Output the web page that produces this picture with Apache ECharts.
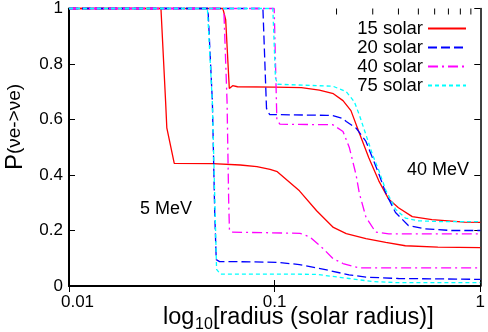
<!DOCTYPE html>
<html>
<head>
<meta charset="utf-8">
<script src="https://cdn.jsdelivr.net/npm/echarts@6/dist/echarts.min.js"></script>
<style>
  html, body { margin: 0; padding: 0; background: #fff; }
  #main { width: 488px; height: 332px; }
</style>
</head>
<body>
<div id="main"></div>
<script>
// [radius, P] pairs, one array per curve
var solar15_5MeV = [[0.01, 1], [0.028, 1], [0.0295, 0.664], [0.0299, 0.57], [0.0325, 0.442], [0.05, 0.441], [0.068, 0.436], [0.082, 0.43], [0.095, 0.42], [0.103, 0.412], [0.132, 0.343], [0.16, 0.271], [0.193, 0.211], [0.223, 0.189], [0.278, 0.171], [0.347, 0.157], [0.432, 0.145], [0.622, 0.14], [1, 0.138]];
var solar15_40MeV = [[0.01, 1], [0.056, 1], [0.0578, 0.96], [0.0602, 0.712], [0.0625, 0.722], [0.066, 0.718], [0.1, 0.717], [0.135, 0.715], [0.165, 0.706], [0.193, 0.693], [0.215, 0.668], [0.235, 0.632], [0.257, 0.555], [0.287, 0.462], [0.321, 0.379], [0.358, 0.314], [0.4, 0.282], [0.467, 0.25], [0.582, 0.239], [0.838, 0.23], [1, 0.229]];
var solar20_5MeV = [[0.01, 1], [0.0474, 1], [0.0498, 0.664], [0.0511, 0.27], [0.052, 0.095], [0.054, 0.088], [0.08, 0.087], [0.105, 0.085], [0.132, 0.077], [0.179, 0.058], [0.23, 0.04], [0.278, 0.032], [0.4, 0.027], [1, 0.024]];
var solar20_40MeV = [[0.01, 1], [0.0877, 1], [0.0913, 0.64], [0.0945, 0.618], [0.179, 0.615], [0.192, 0.614], [0.215, 0.603], [0.223, 0.593], [0.249, 0.569], [0.278, 0.521], [0.299, 0.462], [0.322, 0.402], [0.347, 0.335], [0.387, 0.265], [0.447, 0.218], [0.539, 0.206], [0.726, 0.2], [1, 0.2]];
var solar40_5MeV = [[0.01, 1], [0.0566, 1], [0.0587, 0.664], [0.0598, 0.3], [0.0603, 0.2], [0.062, 0.194], [0.133, 0.19], [0.1486, 0.176], [0.172, 0.135], [0.192, 0.099], [0.215, 0.081], [0.258, 0.065], [0.4, 0.065], [1, 0.065]];
var solar40_40MeV = [[0.01, 1], [0.0995, 1], [0.1025, 0.6], [0.106, 0.583], [0.192, 0.581], [0.215, 0.557], [0.231, 0.498], [0.249, 0.4], [0.258, 0.335], [0.278, 0.248], [0.31, 0.194], [0.359, 0.188], [1, 0.188]];
var solar75_5MeV = [[0.01, 1], [0.0471, 1], [0.0498, 0.66], [0.0522, 0.06], [0.0545, 0.043], [0.1, 0.043], [0.16, 0.042], [0.23, 0.027], [0.3, 0.016], [0.4, 0.012], [1, 0.012]];
var solar75_40MeV = [[0.01, 1], [0.098, 1], [0.1009, 0.75], [0.1035, 0.727], [0.192, 0.72], [0.223, 0.7], [0.244, 0.664], [0.258, 0.617], [0.278, 0.545], [0.299, 0.474], [0.322, 0.414], [0.347, 0.346], [0.387, 0.277], [0.432, 0.245], [0.5, 0.235], [0.647, 0.232], [1, 0.232]];

var legendNames = ['15 solar', '20 solar', '40 solar', '75 solar'];
var yTicks = [0, 0.2, 0.4, 0.6, 0.8, 1];
var topMinorTicks = [0.2, 0.3, 0.4, 0.5, 0.6, 0.7, 0.8, 0.9];

var font = 'Liberation Sans';

function curve(name, data, color, dash) {
  return {
    type: 'line', name: name, data: data, symbol: 'none', clip: false,
    lineStyle: { color: color, width: 1.3, type: dash },
    itemStyle: { color: color }
  };
}

var chart = echarts.init(document.getElementById('main'));
chart.setOption({
  animation: false,
  grid: { left: 69, right: 2, top: 6, bottom: 46 },
  legend: {
    data: legendNames,
    orient: 'vertical',
    right: 16, top: 14,
    align: 'right',
    itemWidth: 38, itemHeight: 21, itemGap: 0,
    itemStyle: { opacity: 0 },
    textStyle: { fontFamily: font, fontSize: 18.5, color: '#000' }
  },
  xAxis: [{
    type: 'log', logBase: 10, min: 0.01, max: 1, position: 'bottom',
    axisLine: { lineStyle: { color: '#000', width: 2 } },
    axisTick: { inside: true, length: 6, lineStyle: { color: '#000', width: 1 } },
    axisLabel: { fontFamily: font, fontSize: 17, color: '#000', margin: 8,
      formatter: function (v) { return v === 0.01 ? '{first|0.01}' : String(v); },
      rich: { first: { fontFamily: font, fontSize: 17, color: '#000', padding: [0, 0, 0, 17] } } },
    splitLine: { show: false }
  }, {
    type: 'log', logBase: 10, min: 0.01, max: 1, position: 'top',
    axisLine: { lineStyle: { color: '#000', width: 1.5 } },
    axisTick: { inside: true, length: 6, lineStyle: { color: '#000', width: 1 } },
    axisLabel: { show: false },
    splitLine: { show: false }
  }],
  yAxis: [{
    type: 'value', min: 0, max: 1, interval: 0.2, position: 'left',
    axisLine: { lineStyle: { color: '#000', width: 2 } },
    axisTick: { inside: true, length: 6, lineStyle: { color: '#000', width: 1 } },
    axisLabel: { fontFamily: font, fontSize: 17, color: '#000', margin: 6,
      formatter: function (v) { return yTicks.indexOf(v) >= 0 ? String(v) : ''; } },
    splitLine: { show: false }
  }, {
    type: 'value', min: 0, max: 1, interval: 0.2, position: 'right',
    axisLine: { lineStyle: { color: '#000', width: 1.5 } },
    axisTick: { inside: true, length: 6, lineStyle: { color: '#000', width: 1 } },
    axisLabel: { show: false },
    splitLine: { show: false }
  }],
  graphic: [
    { type: 'text', x: 15, y: 127, rotation: Math.PI / 2,
      style: { text: '{p|P}{q|(νe->νe)}', align: 'center', verticalAlign: 'middle', fill: '#000',
        rich: { p: { fontFamily: font, fontSize: 24, verticalAlign: 'middle' },
                q: { fontFamily: font, fontSize: 19, verticalAlign: 'middle' } } } },
    { type: 'text', x: 163, y: 318,
      style: { text: 'log', fontFamily: font, fontSize: 23.5, fill: '#000', verticalAlign: 'middle' } },
    { type: 'text', x: 195, y: 325,
      style: { text: '10', fontFamily: font, fontSize: 16, fill: '#000', verticalAlign: 'middle' } },
    { type: 'text', x: 213, y: 318,
      style: { text: '[radius (solar radius)]', fontFamily: font, fontSize: 23.5, fill: '#000', verticalAlign: 'middle' } },
    { type: 'text', x: 140, y: 209,
      style: { text: '5 MeV', fontFamily: font, fontSize: 18, fill: '#000', verticalAlign: 'middle' } },
    { type: 'text', x: 407, y: 170,
      style: { text: '40 MeV', fontFamily: font, fontSize: 18, fill: '#000', verticalAlign: 'middle' } }
  ],
  series: [
    curve('15 solar', solar15_5MeV, '#ff0000', 'solid'),
    curve('15 solar', solar15_40MeV, '#ff0000', 'solid'),
    curve('20 solar', solar20_5MeV, '#0000ff', [9, 4]),
    curve('20 solar', solar20_40MeV, '#0000ff', [9, 4]),
    curve('40 solar', solar40_5MeV, '#ff00ff', [10, 4, 2, 4]),
    curve('40 solar', solar40_40MeV, '#ff00ff', [10, 4, 2, 4]),
    curve('75 solar', solar75_5MeV, '#00ffff', [4, 3]),
    curve('75 solar', solar75_40MeV, '#00ffff', [4, 3]),
    {
      type: 'custom', name: 'minor ticks', silent: true, xAxisIndex: 1,
      data: topMinorTicks.map(function (v) { return [v, 1]; }),
      renderItem: function (params, api) {
        var p = api.coord([api.value(0), api.value(1)]);
        return { type: 'line', shape: { x1: p[0], y1: p[1], x2: p[0], y2: p[1] + 6 },
          style: { stroke: '#000', lineWidth: 1 } };
      }
    }
  ]
});
</script>
</body>
</html>
